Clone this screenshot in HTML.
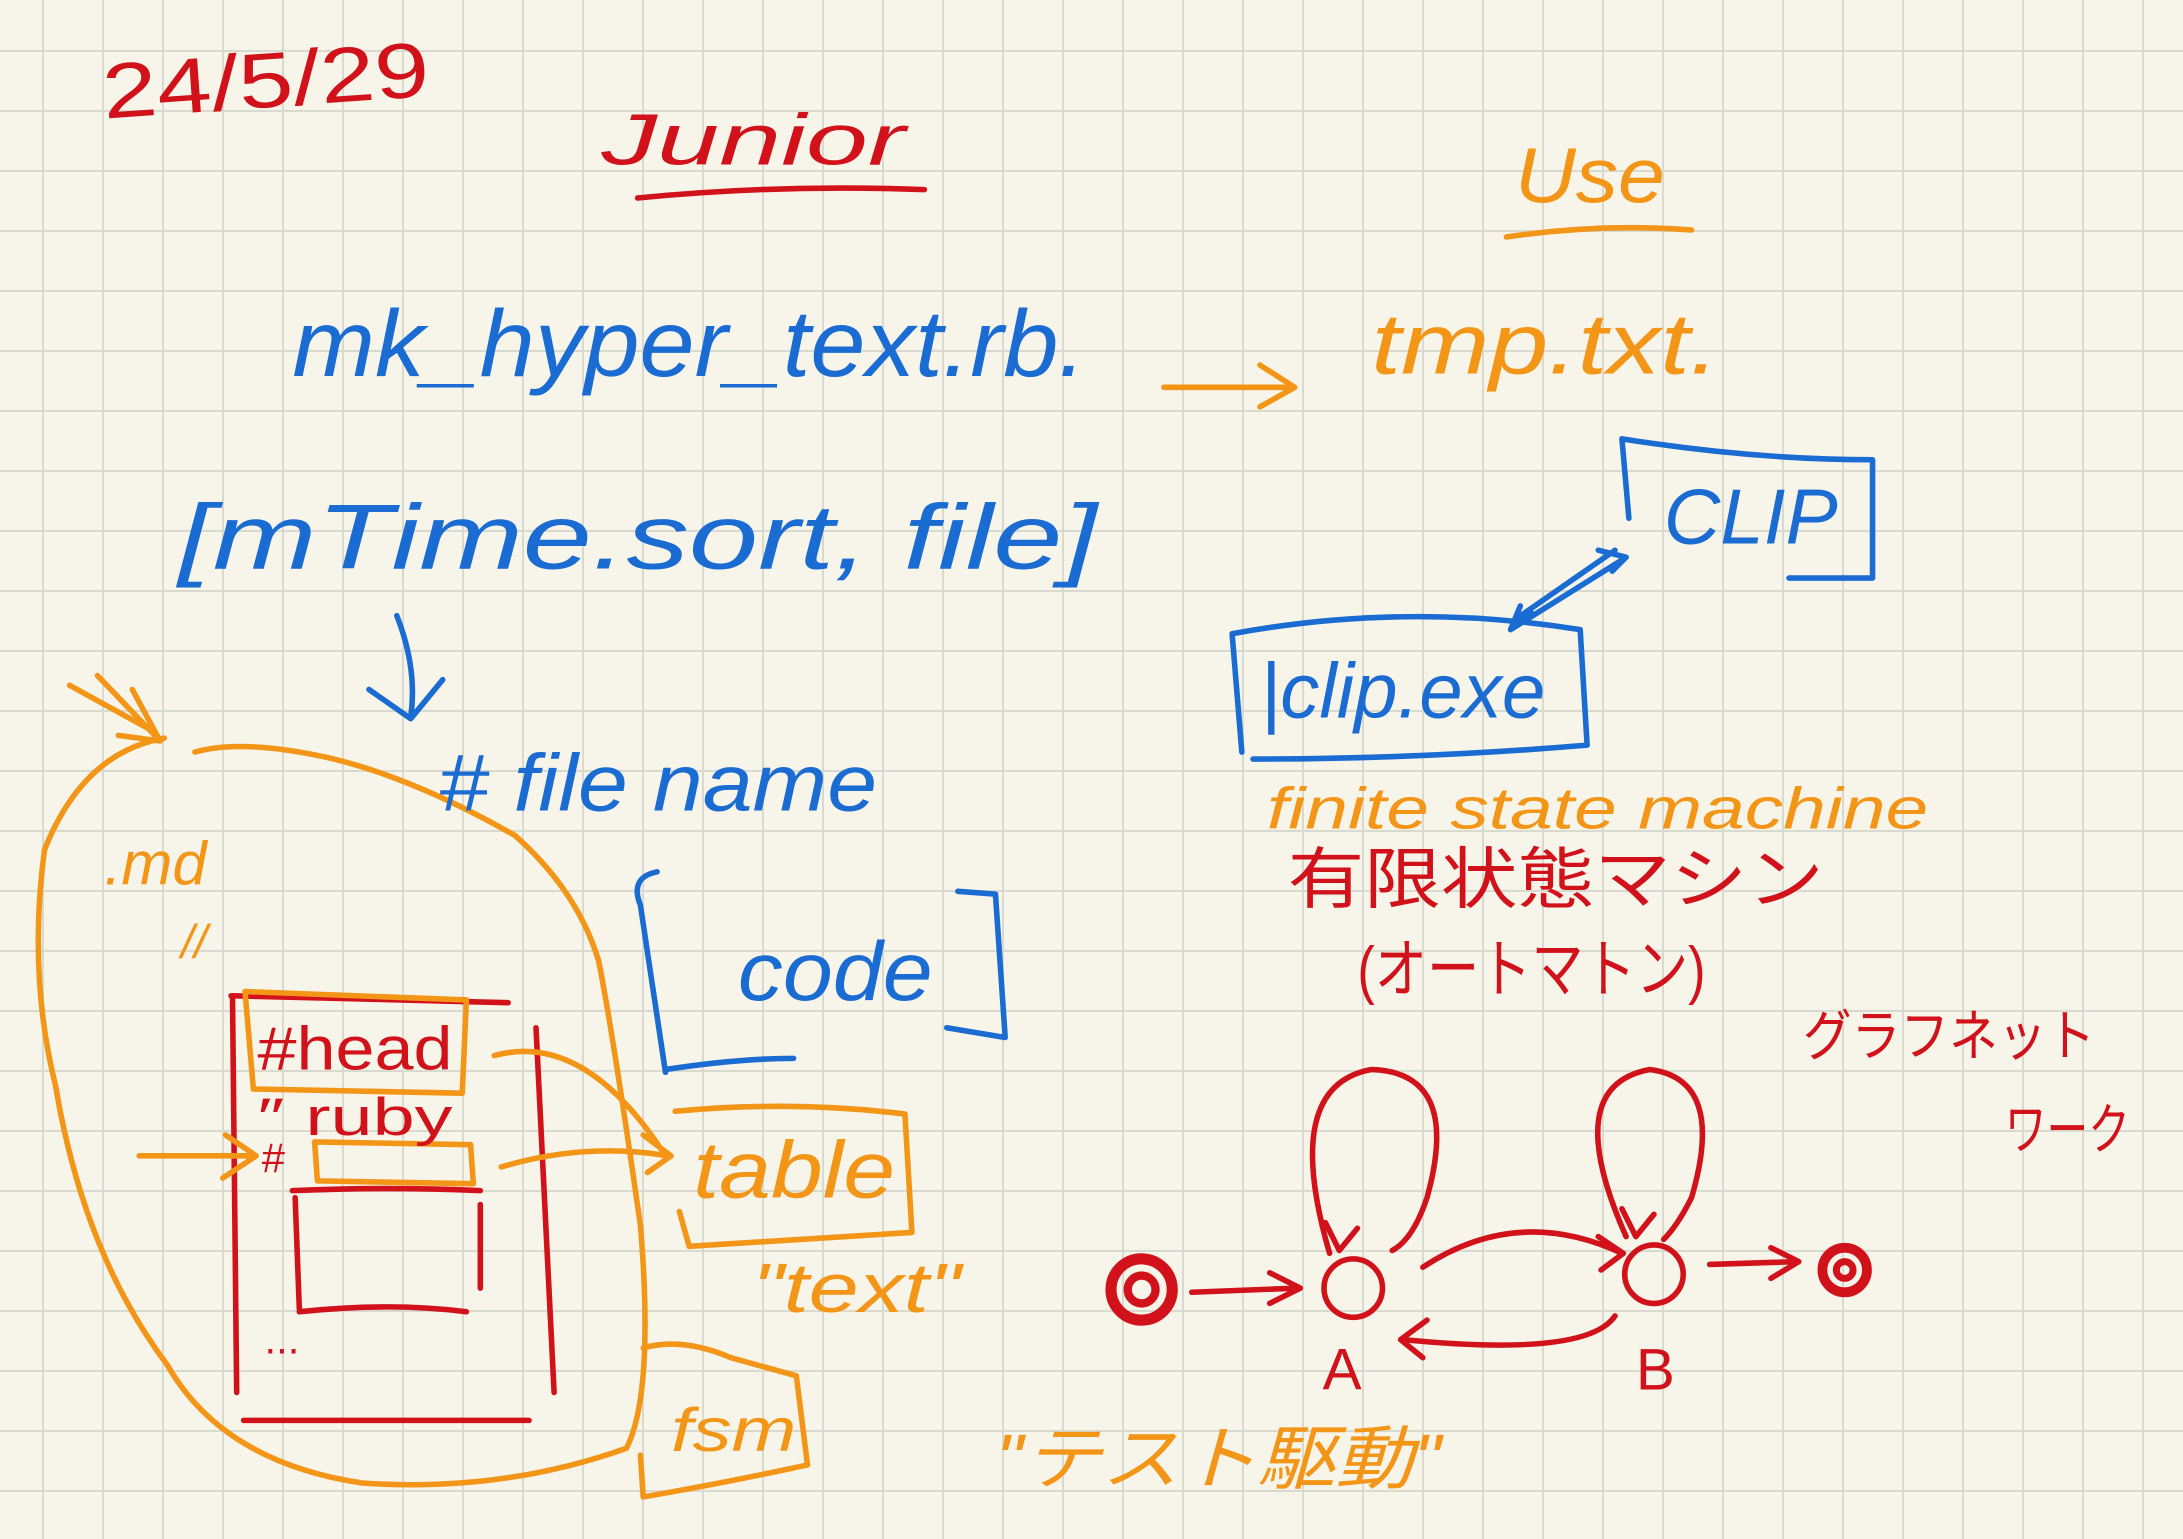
<!DOCTYPE html>
<html><head><meta charset="utf-8"><style>
html,body{margin:0;padding:0}
body{width:2183px;height:1539px;overflow:hidden;background-color:#f7f4e9;
background-image:linear-gradient(to right,#d8d9cf 2px,transparent 2px),linear-gradient(to bottom,#d8d9cf 2px,transparent 2px);
background-size:60px 60px;background-position:42px 50px;}
svg{position:absolute;left:0;top:0}
text{font-family:"Liberation Sans","Noto Sans CJK JP",sans-serif}
</style></head><body>
<svg width="2183" height="1539" viewBox="0 0 1568 1105">
<g fill="none" stroke-linecap="round" stroke-linejoin="round" stroke-width="4">
<g stroke="#d2121b">
<path d="M458 142 Q560 132 664 136"/>
<circle cx="820" cy="926" r="22" stroke-width="8"/>
<circle cx="820" cy="926" r="10" stroke-width="6"/>
<path d="M856 928 L932 925 M912 914 L934 925 L912 936"/>
<circle cx="972" cy="925" r="21"/>
<path d="M955 900 Q920 780 985 768 Q1050 770 1025 860 Q1015 890 1000 898"/>
<path d="M952 878 L962 898 L975 882"/>
<circle cx="1188" cy="915" r="21"/>
<path d="M1168 888 Q1120 780 1185 768 Q1240 775 1215 860 Q1205 880 1195 890"/>
<path d="M1165 868 L1175 888 L1188 872"/>
<path d="M1022 910 Q1090 865 1165 900 M1148 888 L1166 900 L1150 912"/>
<path d="M1160 945 Q1140 975 1008 962 M1025 948 L1006 962 L1022 975"/>
<path d="M1228 908 L1290 906 M1272 896 L1292 906 L1272 918"/>
<circle cx="1325" cy="912" r="16" stroke-width="7"/>
<circle cx="1325" cy="912" r="6" stroke-width="5"/>
<path d="M166 715 L365 720 M167 716 L170 1000 M175 1020 L380 1020 M385 738 L398 1000"/>
<path d="M210 855 Q280 852 345 855 M212 860 L215 940 M215 942 Q280 935 335 942 M345 865 L345 925"/>
</g>
<g stroke="#1a6cd2">
<path d="M1165 315 L1170 372 M1165 315 Q1260 330 1345 330 L1345 415 L1285 415"/>
<path d="M1165 402 L1085 452 M1160 395 L1088 445 M1100 440 L1085 452 L1092 435 M1148 395 L1168 400 L1158 410"/>
<path d="M885 455 Q1010 432 1135 452 L1140 535 Q1020 545 900 545 M885 455 L892 540"/>
<path d="M285 442 Q300 480 295 515 M265 495 L295 516 L318 488"/>
<path d="M472 626 Q452 630 460 650 L478 770 M478 768 Q530 760 570 760"/>
<path d="M688 640 L715 642 L722 745 L680 738"/>
</g>
<g stroke="#f39618">
<path d="M836 278 L928 278 M905 262 L930 278 L905 292"/>
<path d="M1082 170 Q1150 160 1215 165"/>
<path d="M118 530 Q60 540 32 610 Q20 700 40 780 Q60 900 120 980 Q160 1050 260 1065 Q360 1072 450 1040 Q470 1000 460 880 Q440 740 430 690 Q415 640 370 600 Q300 560 240 545 Q175 530 140 540"/>
<path d="M50 492 L110 525 M70 485 L115 532 M95 495 L115 532 L85 528"/>
<path d="M176 712 L335 718 L332 785 L182 782 Z"/>
<path d="M226 820 L338 822 L340 850 L228 848 Z"/>
<path d="M100 830 L182 830 M162 815 L184 830 L160 846"/>
<path d="M355 758 Q420 740 478 830 M360 838 Q420 820 480 830 M462 815 L482 830 L465 842"/>
<path d="M485 798 Q570 790 650 800 L655 885 Q570 890 495 895 L488 870"/>
<path d="M462 968 Q490 960 525 975 L572 988 L580 1052 Q520 1065 462 1075 L460 1045"/>
</g>
</g>
<g fill="#d2121b">
<text x="75" y="85" font-size="56" textLength="235" lengthAdjust="spacingAndGlyphs" transform="rotate(-4 75 85)">24/5/29</text>
<text x="432" y="118" font-size="52" font-style="italic" textLength="218" lengthAdjust="spacingAndGlyphs">Junior</text>
<text x="925" y="648" font-size="48" textLength="385" lengthAdjust="spacingAndGlyphs">有限状態マシン</text>
<text x="975" y="712" font-size="46" textLength="250" lengthAdjust="spacingAndGlyphs">(オートマトン)</text>
<text x="1295" y="758" font-size="40" textLength="210" lengthAdjust="spacingAndGlyphs">グラフネット</text>
<text x="1440" y="825" font-size="40" textLength="90" lengthAdjust="spacingAndGlyphs">ワーク</text>
<text x="185" y="768" font-size="44" textLength="140" lengthAdjust="spacingAndGlyphs">#head</text>
<text x="185" y="815" font-size="38" textLength="140" lengthAdjust="spacingAndGlyphs">″ ruby</text>
<text x="188" y="842" font-size="30">#</text>
<text x="190" y="972" font-size="30">...</text>
<text x="950" y="998" font-size="42">A</text>
<text x="1175" y="998" font-size="42">B</text>
</g>
<g fill="#1a6cd2" font-style="italic">
<text x="210" y="270" font-size="68" textLength="570" lengthAdjust="spacingAndGlyphs">mk_hyper_text.rb.</text>
<text x="128" y="408" font-size="66" textLength="660" lengthAdjust="spacingAndGlyphs">[mTime.sort,  file]</text>
<text x="1195" y="390" font-size="56" textLength="125" lengthAdjust="spacingAndGlyphs">CLIP</text>
<text x="905" y="515" font-size="56" textLength="205" lengthAdjust="spacingAndGlyphs">|clip.exe</text>
<text x="315" y="582" font-size="58" textLength="315" lengthAdjust="spacingAndGlyphs">#  file name</text>
<text x="530" y="718" font-size="60" textLength="140" lengthAdjust="spacingAndGlyphs">code</text>
</g>
<g fill="#f39618" font-style="italic">
<text x="1088" y="145" font-size="56" textLength="108" lengthAdjust="spacingAndGlyphs">Use</text>
<text x="985" y="268" font-size="62" textLength="250" lengthAdjust="spacingAndGlyphs">tmp.txt.</text>
<text x="910" y="595" font-size="42" textLength="475" lengthAdjust="spacingAndGlyphs">finite state machine</text>
<text x="75" y="635" font-size="44">.md</text>
<text x="130" y="688" font-size="34">//</text>
<text x="498" y="860" font-size="58" textLength="145" lengthAdjust="spacingAndGlyphs">table</text>
<text x="540" y="942" font-size="50" textLength="150" lengthAdjust="spacingAndGlyphs">"text"</text>
<text x="482" y="1042" font-size="44" textLength="90" lengthAdjust="spacingAndGlyphs">fsm</text>
<text x="715" y="1065" font-size="50" textLength="320" lengthAdjust="spacingAndGlyphs">"テスト駆動"</text>
</g>
</svg>
</body></html>
